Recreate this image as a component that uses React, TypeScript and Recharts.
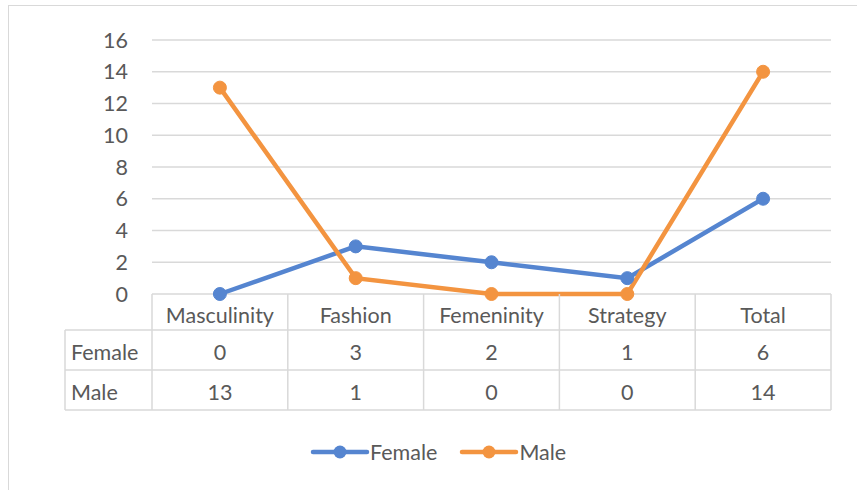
import {
  LineChart,
  Line,
  XAxis,
  YAxis,
  CartesianGrid,
} from "recharts";

const categories = ["Masculinity", "Fashion", "Femeninity", "Strategy", "Total"];
const femaleValues = [0, 3, 2, 1, 6];
const maleValues = [13, 1, 0, 0, 14];
const yTicks = [0, 2, 4, 6, 8, 10, 12, 14, 16];

const seriesNames = ["Female", "Male"];
const seriesValues = [femaleValues, maleValues];
const colors = ["#5585D0", "#F39440"];

const data = categories.map((name, i) => ({
  name,
  Female: femaleValues[i],
  Male: maleValues[i],
}));

const W = 857;
const H = 490;
const PLOT_LEFT = 152;
const PLOT_RIGHT = 831;
const CELL_W = (PLOT_RIGHT - PLOT_LEFT) / categories.length;
const TABLE_TOP = 294;
const ROW_Y = [294, 330, 370, 410];
const TABLE_LEFT = 65;
const FONT = "Lato, 'Open Sans', sans-serif";
const FS = 21.5;
const TEXT = "#595959";
const GRID = "#d9d9d9";

function TableTick(props: any) {
  const { x, index, payload } = props;
  const left = x - CELL_W / 2;
  const right = x + CELL_W / 2;
  return (
    <g>
      {index === 0 && (
        <g>
          {ROW_Y.slice(1).map((ry) => (
            <line key={ry} x1={TABLE_LEFT} x2={PLOT_RIGHT} y1={ry} y2={ry} stroke={GRID} strokeWidth={1.5} />
          ))}
          <line x1={TABLE_LEFT} x2={TABLE_LEFT} y1={ROW_Y[1]} y2={ROW_Y[3]} stroke={GRID} strokeWidth={1.5} />
          {seriesNames.map((s, si) => (
            <text key={s} x={71} y={(ROW_Y[si + 1] + ROW_Y[si + 2]) / 2 + 2} dy="0.35em" fill={TEXT} fontSize={FS} fontFamily={FONT}>
              {s}
            </text>
          ))}
          <line x1={left} x2={left} y1={TABLE_TOP} y2={ROW_Y[3]} stroke={GRID} strokeWidth={1.5} />
        </g>
      )}
      <line x1={right} x2={right} y1={TABLE_TOP} y2={ROW_Y[3]} stroke={GRID} strokeWidth={1.5} />
      <text x={x} y={(ROW_Y[0] + ROW_Y[1]) / 2 + 3} dy="0.35em" textAnchor="middle" fill={TEXT} fontSize={FS} fontFamily={FONT}>
        {payload.value}
      </text>
      {seriesValues.map((vals, si) => (
        <text key={si} x={x} y={(ROW_Y[si + 1] + ROW_Y[si + 2]) / 2 + 2} dy="0.35em" textAnchor="middle" fill={TEXT} fontSize={FS} fontFamily={FONT}>
          {vals[index]}
        </text>
      ))}
    </g>
  );
}

function YTick(props: any) {
  const { y, payload } = props;
  return (
    <text x={128} y={y} dy="0.35em" textAnchor="end" fill={TEXT} fontSize={FS} fontFamily={FONT}>
      {payload.value}
    </text>
  );
}

function ChartLegend() {
  return (
    <div style={{ position: "absolute", left: 310, top: 440, display: "flex", alignItems: "center", height: 24 }}>
      {seriesNames.map((s, si) => (
        <div key={s} style={{ display: "flex", alignItems: "center", marginRight: 22 }}>
          <svg width={60} height={16}>
            <line x1={3} x2={57} y1={8} y2={8} stroke={colors[si]} strokeWidth={4.5} strokeLinecap="round" />
            <circle cx={30} cy={8} r={6.5} fill={colors[si]} />
          </svg>
          <span style={{ color: TEXT, fontSize: FS, fontFamily: FONT, lineHeight: "24px" }}>{s}</span>
        </div>
      ))}
    </div>
  );
}

export default function App() {
  return (
    <div style={{ position: "absolute", left: 0, top: 0, width: W, height: H, overflow: "hidden", background: "#fff" }}>
      <div style={{ position: "absolute", left: 8, top: 5, width: 900, height: 600, border: `1px solid ${GRID}` }} />
      <div style={{ position: "absolute", left: 0, top: 0 }}>
        <LineChart width={W} height={H} data={data} margin={{ top: 40, right: W - PLOT_RIGHT, left: PLOT_LEFT - 60, bottom: 0 }}>
          <CartesianGrid vertical={false} stroke={GRID} strokeWidth={1.5} />
          <XAxis
            dataKey="name"
            scale="band"
            height={H - TABLE_TOP}
            axisLine={false}
            tickLine={false}
            tick={<TableTick />}
            interval={0}
          />
          <YAxis width={60} domain={[0, 16]} ticks={yTicks} axisLine={false} tickLine={false} tick={<YTick />} />
          {seriesNames.map((s, si) => (
            <Line
              key={s}
              dataKey={s}
              stroke={colors[si]}
              strokeWidth={4.5}
              dot={{ r: 6.5, fill: colors[si], stroke: colors[si], strokeWidth: 1 }}
              activeDot={false}
              isAnimationActive={false}
            />
          ))}
        </LineChart>
      </div>
      <ChartLegend />
    </div>
  );
}
